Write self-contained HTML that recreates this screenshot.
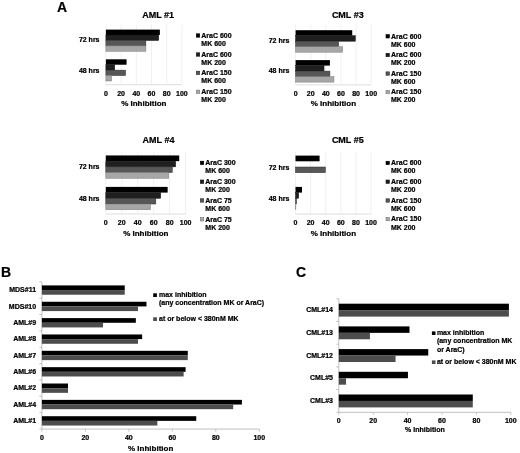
<!DOCTYPE html>
<html><head><meta charset="utf-8"><style>
html,body{margin:0;padding:0;background:#fff;}
body{width:520px;height:453px;overflow:hidden;}
svg{display:block;font-family:"Liberation Sans", sans-serif;filter:blur(0.45px);}
text{stroke:#000;stroke-width:0.22;stroke-linejoin:round;}
</style></head><body>
<svg width="520" height="453" viewBox="0 0 520 453">
<rect x="0" y="0" width="520" height="453" fill="#fff"/>
<line x1="121.10" y1="24.50" x2="121.10" y2="84.70" stroke="#f0f0f0" stroke-width="1"/>
<line x1="136.30" y1="24.50" x2="136.30" y2="84.70" stroke="#f0f0f0" stroke-width="1"/>
<line x1="151.50" y1="24.50" x2="151.50" y2="84.70" stroke="#f0f0f0" stroke-width="1"/>
<line x1="166.70" y1="24.50" x2="166.70" y2="84.70" stroke="#f0f0f0" stroke-width="1"/>
<line x1="181.90" y1="24.50" x2="181.90" y2="84.70" stroke="#f0f0f0" stroke-width="1"/>
<line x1="105.90" y1="24.50" x2="105.90" y2="84.70" stroke="#f0f0f0" stroke-width="1"/>
<line x1="105.90" y1="84.70" x2="181.90" y2="84.70" stroke="#dedede" stroke-width="1"/>
<rect x="105.90" y="29.60" width="53.96" height="5.42" fill="#000000"/>
<rect x="105.90" y="35.02" width="52.82" height="5.42" fill="#1f1f1f" stroke="#111111" stroke-width="0.5"/>
<rect x="105.90" y="40.44" width="39.98" height="5.42" fill="#575757" stroke="#2e2e2e" stroke-width="0.5"/>
<rect x="105.90" y="45.86" width="39.98" height="5.42" fill="#a6a6a6" stroke="#7a7a7a" stroke-width="0.5"/>
<rect x="105.90" y="59.30" width="20.67" height="5.42" fill="#000000"/>
<rect x="105.90" y="64.72" width="8.82" height="5.42" fill="#1f1f1f" stroke="#111111" stroke-width="0.5"/>
<rect x="105.90" y="70.14" width="19.68" height="5.42" fill="#575757" stroke="#2e2e2e" stroke-width="0.5"/>
<rect x="105.90" y="75.56" width="5.70" height="5.42" fill="#a6a6a6" stroke="#7a7a7a" stroke-width="0.5"/>
<text x="158.10" y="17.50" font-size="9" text-anchor="middle" font-weight="bold" fill="#000">AML #1</text>
<text x="99.50" y="42.45" font-size="7" text-anchor="end" font-weight="bold" fill="#000">72 hrs</text>
<text x="99.50" y="72.75" font-size="7" text-anchor="end" font-weight="bold" fill="#000">48 hrs</text>
<text x="105.90" y="95.80" font-size="7" text-anchor="middle" font-weight="bold" fill="#000">0</text>
<text x="121.10" y="95.80" font-size="7" text-anchor="middle" font-weight="bold" fill="#000">20</text>
<text x="136.30" y="95.80" font-size="7" text-anchor="middle" font-weight="bold" fill="#000">40</text>
<text x="151.50" y="95.80" font-size="7" text-anchor="middle" font-weight="bold" fill="#000">60</text>
<text x="166.70" y="95.80" font-size="7" text-anchor="middle" font-weight="bold" fill="#000">80</text>
<text x="181.90" y="95.80" font-size="7" text-anchor="middle" font-weight="bold" fill="#000">100</text>
<text x="143.80" y="106.40" font-size="8" text-anchor="middle" font-weight="bold" fill="#000">% Inhibition</text>
<rect x="196.30" y="33.80" width="3.40" height="3.40" fill="#000000" stroke="#000" stroke-width="0.6"/>
<text x="201.30" y="37.80" font-size="7" text-anchor="start" font-weight="bold" fill="#000">AraC 600</text>
<text x="201.30" y="46.00" font-size="7" text-anchor="start" font-weight="bold" fill="#000">MK 600</text>
<rect x="196.30" y="52.80" width="3.40" height="3.40" fill="#1f1f1f" stroke="#111111" stroke-width="0.6"/>
<text x="201.30" y="56.80" font-size="7" text-anchor="start" font-weight="bold" fill="#000">AraC 600</text>
<text x="201.30" y="64.80" font-size="7" text-anchor="start" font-weight="bold" fill="#000">MK 200</text>
<rect x="196.30" y="71.20" width="3.40" height="3.40" fill="#575757" stroke="#2e2e2e" stroke-width="0.6"/>
<text x="201.30" y="75.20" font-size="7" text-anchor="start" font-weight="bold" fill="#000">AraC 150</text>
<text x="201.30" y="83.20" font-size="7" text-anchor="start" font-weight="bold" fill="#000">MK 600</text>
<rect x="196.30" y="90.10" width="3.40" height="3.40" fill="#a6a6a6" stroke="#7a7a7a" stroke-width="0.6"/>
<text x="201.30" y="94.10" font-size="7" text-anchor="start" font-weight="bold" fill="#000">AraC 150</text>
<text x="201.30" y="102.00" font-size="7" text-anchor="start" font-weight="bold" fill="#000">MK 200</text>
<line x1="310.72" y1="24.50" x2="310.72" y2="84.90" stroke="#f0f0f0" stroke-width="1"/>
<line x1="325.84" y1="24.50" x2="325.84" y2="84.90" stroke="#f0f0f0" stroke-width="1"/>
<line x1="340.96" y1="24.50" x2="340.96" y2="84.90" stroke="#f0f0f0" stroke-width="1"/>
<line x1="356.08" y1="24.50" x2="356.08" y2="84.90" stroke="#f0f0f0" stroke-width="1"/>
<line x1="371.20" y1="24.50" x2="371.20" y2="84.90" stroke="#f0f0f0" stroke-width="1"/>
<line x1="295.60" y1="24.50" x2="295.60" y2="84.90" stroke="#f0f0f0" stroke-width="1"/>
<line x1="295.60" y1="84.90" x2="371.20" y2="84.90" stroke="#dedede" stroke-width="1"/>
<rect x="295.60" y="30.20" width="56.62" height="5.50" fill="#000000"/>
<rect x="295.60" y="35.70" width="59.72" height="5.50" fill="#1f1f1f" stroke="#111111" stroke-width="0.5"/>
<rect x="295.60" y="41.20" width="43.09" height="5.50" fill="#575757" stroke="#2e2e2e" stroke-width="0.5"/>
<rect x="295.60" y="46.70" width="47.10" height="5.50" fill="#a6a6a6" stroke="#7a7a7a" stroke-width="0.5"/>
<rect x="295.60" y="60.10" width="34.32" height="5.50" fill="#000000"/>
<rect x="295.60" y="65.60" width="28.43" height="5.50" fill="#1f1f1f" stroke="#111111" stroke-width="0.5"/>
<rect x="295.60" y="71.10" width="34.32" height="5.50" fill="#575757" stroke="#2e2e2e" stroke-width="0.5"/>
<rect x="295.60" y="76.60" width="38.33" height="5.50" fill="#a6a6a6" stroke="#7a7a7a" stroke-width="0.5"/>
<text x="347.80" y="17.50" font-size="9" text-anchor="middle" font-weight="bold" fill="#000">CML #3</text>
<text x="289.30" y="43.10" font-size="7" text-anchor="end" font-weight="bold" fill="#000">72 hrs</text>
<text x="289.30" y="73.30" font-size="7" text-anchor="end" font-weight="bold" fill="#000">48 hrs</text>
<text x="295.60" y="95.80" font-size="7" text-anchor="middle" font-weight="bold" fill="#000">0</text>
<text x="310.72" y="95.80" font-size="7" text-anchor="middle" font-weight="bold" fill="#000">20</text>
<text x="325.84" y="95.80" font-size="7" text-anchor="middle" font-weight="bold" fill="#000">40</text>
<text x="340.96" y="95.80" font-size="7" text-anchor="middle" font-weight="bold" fill="#000">60</text>
<text x="356.08" y="95.80" font-size="7" text-anchor="middle" font-weight="bold" fill="#000">80</text>
<text x="371.20" y="95.80" font-size="7" text-anchor="middle" font-weight="bold" fill="#000">100</text>
<text x="333.40" y="106.40" font-size="8" text-anchor="middle" font-weight="bold" fill="#000">% Inhibition</text>
<rect x="386.00" y="34.60" width="3.40" height="3.40" fill="#000000" stroke="#000" stroke-width="0.6"/>
<text x="391.00" y="38.60" font-size="7" text-anchor="start" font-weight="bold" fill="#000">AraC 600</text>
<text x="391.00" y="46.70" font-size="7" text-anchor="start" font-weight="bold" fill="#000">MK 600</text>
<rect x="386.00" y="53.30" width="3.40" height="3.40" fill="#1f1f1f" stroke="#111111" stroke-width="0.6"/>
<text x="391.00" y="57.30" font-size="7" text-anchor="start" font-weight="bold" fill="#000">AraC 600</text>
<text x="391.00" y="65.20" font-size="7" text-anchor="start" font-weight="bold" fill="#000">MK 200</text>
<rect x="386.00" y="71.85" width="3.40" height="3.40" fill="#575757" stroke="#2e2e2e" stroke-width="0.6"/>
<text x="391.00" y="75.85" font-size="7" text-anchor="start" font-weight="bold" fill="#000">AraC 150</text>
<text x="391.00" y="83.85" font-size="7" text-anchor="start" font-weight="bold" fill="#000">MK 600</text>
<rect x="386.00" y="90.35" width="3.40" height="3.40" fill="#a6a6a6" stroke="#7a7a7a" stroke-width="0.6"/>
<text x="391.00" y="94.35" font-size="7" text-anchor="start" font-weight="bold" fill="#000">AraC 150</text>
<text x="391.00" y="102.40" font-size="7" text-anchor="start" font-weight="bold" fill="#000">MK 200</text>
<line x1="121.76" y1="151.50" x2="121.76" y2="214.00" stroke="#f0f0f0" stroke-width="1"/>
<line x1="137.72" y1="151.50" x2="137.72" y2="214.00" stroke="#f0f0f0" stroke-width="1"/>
<line x1="153.68" y1="151.50" x2="153.68" y2="214.00" stroke="#f0f0f0" stroke-width="1"/>
<line x1="169.64" y1="151.50" x2="169.64" y2="214.00" stroke="#f0f0f0" stroke-width="1"/>
<line x1="185.60" y1="151.50" x2="185.60" y2="214.00" stroke="#f0f0f0" stroke-width="1"/>
<line x1="105.80" y1="151.50" x2="105.80" y2="214.00" stroke="#f0f0f0" stroke-width="1"/>
<line x1="105.80" y1="214.00" x2="185.60" y2="214.00" stroke="#dedede" stroke-width="1"/>
<rect x="105.80" y="155.45" width="73.42" height="5.70" fill="#000000"/>
<rect x="105.80" y="161.15" width="69.83" height="5.70" fill="#1f1f1f" stroke="#111111" stroke-width="0.5"/>
<rect x="105.80" y="166.85" width="66.47" height="5.70" fill="#575757" stroke="#2e2e2e" stroke-width="0.5"/>
<rect x="105.80" y="172.55" width="62.96" height="5.70" fill="#a6a6a6" stroke="#7a7a7a" stroke-width="0.5"/>
<rect x="105.80" y="186.90" width="61.85" height="5.70" fill="#000000"/>
<rect x="105.80" y="192.60" width="54.90" height="5.70" fill="#1f1f1f" stroke="#111111" stroke-width="0.5"/>
<rect x="105.80" y="198.30" width="50.03" height="5.70" fill="#575757" stroke="#2e2e2e" stroke-width="0.5"/>
<rect x="105.80" y="204.00" width="44.77" height="5.70" fill="#a6a6a6" stroke="#7a7a7a" stroke-width="0.5"/>
<text x="158.50" y="143.00" font-size="9" text-anchor="middle" font-weight="bold" fill="#000">AML #4</text>
<text x="99.50" y="169.40" font-size="7" text-anchor="end" font-weight="bold" fill="#000">72 hrs</text>
<text x="99.50" y="200.90" font-size="7" text-anchor="end" font-weight="bold" fill="#000">48 hrs</text>
<text x="105.80" y="224.80" font-size="7" text-anchor="middle" font-weight="bold" fill="#000">0</text>
<text x="121.76" y="224.80" font-size="7" text-anchor="middle" font-weight="bold" fill="#000">20</text>
<text x="137.72" y="224.80" font-size="7" text-anchor="middle" font-weight="bold" fill="#000">40</text>
<text x="153.68" y="224.80" font-size="7" text-anchor="middle" font-weight="bold" fill="#000">60</text>
<text x="169.64" y="224.80" font-size="7" text-anchor="middle" font-weight="bold" fill="#000">80</text>
<text x="185.60" y="224.80" font-size="7" text-anchor="middle" font-weight="bold" fill="#000">100</text>
<text x="145.80" y="235.80" font-size="8" text-anchor="middle" font-weight="bold" fill="#000">% Inhibition</text>
<rect x="200.30" y="161.20" width="3.40" height="3.40" fill="#000000" stroke="#000" stroke-width="0.6"/>
<text x="205.30" y="165.20" font-size="7" text-anchor="start" font-weight="bold" fill="#000">AraC 300</text>
<text x="205.30" y="173.35" font-size="7" text-anchor="start" font-weight="bold" fill="#000">MK 600</text>
<rect x="200.30" y="180.00" width="3.40" height="3.40" fill="#1f1f1f" stroke="#111111" stroke-width="0.6"/>
<text x="205.30" y="184.00" font-size="7" text-anchor="start" font-weight="bold" fill="#000">AraC 300</text>
<text x="205.30" y="192.00" font-size="7" text-anchor="start" font-weight="bold" fill="#000">MK 200</text>
<rect x="200.30" y="198.75" width="3.40" height="3.40" fill="#575757" stroke="#2e2e2e" stroke-width="0.6"/>
<text x="205.30" y="202.75" font-size="7" text-anchor="start" font-weight="bold" fill="#000">AraC 75</text>
<text x="205.30" y="210.75" font-size="7" text-anchor="start" font-weight="bold" fill="#000">MK 600</text>
<rect x="200.30" y="217.60" width="3.40" height="3.40" fill="#a6a6a6" stroke="#7a7a7a" stroke-width="0.6"/>
<text x="205.30" y="221.60" font-size="7" text-anchor="start" font-weight="bold" fill="#000">AraC 75</text>
<text x="205.30" y="229.60" font-size="7" text-anchor="start" font-weight="bold" fill="#000">MK 200</text>
<line x1="310.60" y1="151.50" x2="310.60" y2="214.00" stroke="#f0f0f0" stroke-width="1"/>
<line x1="325.70" y1="151.50" x2="325.70" y2="214.00" stroke="#f0f0f0" stroke-width="1"/>
<line x1="340.80" y1="151.50" x2="340.80" y2="214.00" stroke="#f0f0f0" stroke-width="1"/>
<line x1="355.90" y1="151.50" x2="355.90" y2="214.00" stroke="#f0f0f0" stroke-width="1"/>
<line x1="371.00" y1="151.50" x2="371.00" y2="214.00" stroke="#f0f0f0" stroke-width="1"/>
<line x1="295.50" y1="151.50" x2="295.50" y2="214.00" stroke="#f0f0f0" stroke-width="1"/>
<line x1="295.50" y1="214.00" x2="371.00" y2="214.00" stroke="#dedede" stroke-width="1"/>
<rect x="295.50" y="155.60" width="24.08" height="5.70" fill="#000000"/>
<rect x="295.50" y="167.00" width="29.90" height="5.70" fill="#575757" stroke="#2e2e2e" stroke-width="0.5"/>
<rect x="295.50" y="186.90" width="6.49" height="5.70" fill="#000000"/>
<rect x="295.50" y="192.60" width="3.17" height="5.70" fill="#1f1f1f" stroke="#111111" stroke-width="0.5"/>
<rect x="295.50" y="198.30" width="1.06" height="5.70" fill="#575757" stroke="#2e2e2e" stroke-width="0.5"/>
<rect x="295.50" y="204.00" width="0.38" height="5.70" fill="#a6a6a6" stroke="#7a7a7a" stroke-width="0.5"/>
<text x="347.80" y="143.00" font-size="9" text-anchor="middle" font-weight="bold" fill="#000">CML #5</text>
<text x="289.30" y="169.70" font-size="7" text-anchor="end" font-weight="bold" fill="#000">72 hrs</text>
<text x="289.30" y="201.20" font-size="7" text-anchor="end" font-weight="bold" fill="#000">48 hrs</text>
<text x="295.50" y="224.80" font-size="7" text-anchor="middle" font-weight="bold" fill="#000">0</text>
<text x="310.60" y="224.80" font-size="7" text-anchor="middle" font-weight="bold" fill="#000">20</text>
<text x="325.70" y="224.80" font-size="7" text-anchor="middle" font-weight="bold" fill="#000">40</text>
<text x="340.80" y="224.80" font-size="7" text-anchor="middle" font-weight="bold" fill="#000">60</text>
<text x="355.90" y="224.80" font-size="7" text-anchor="middle" font-weight="bold" fill="#000">80</text>
<text x="371.00" y="224.80" font-size="7" text-anchor="middle" font-weight="bold" fill="#000">100</text>
<text x="333.40" y="235.80" font-size="8" text-anchor="middle" font-weight="bold" fill="#000">% Inhibition</text>
<rect x="386.00" y="161.25" width="3.40" height="3.40" fill="#000000" stroke="#000" stroke-width="0.6"/>
<text x="391.00" y="165.25" font-size="7" text-anchor="start" font-weight="bold" fill="#000">AraC 600</text>
<text x="391.00" y="173.45" font-size="7" text-anchor="start" font-weight="bold" fill="#000">MK 600</text>
<rect x="386.00" y="180.00" width="3.40" height="3.40" fill="#1f1f1f" stroke="#111111" stroke-width="0.6"/>
<text x="391.00" y="184.00" font-size="7" text-anchor="start" font-weight="bold" fill="#000">AraC 600</text>
<text x="391.00" y="192.00" font-size="7" text-anchor="start" font-weight="bold" fill="#000">MK 200</text>
<rect x="386.00" y="198.80" width="3.40" height="3.40" fill="#575757" stroke="#2e2e2e" stroke-width="0.6"/>
<text x="391.00" y="202.80" font-size="7" text-anchor="start" font-weight="bold" fill="#000">AraC 150</text>
<text x="391.00" y="210.80" font-size="7" text-anchor="start" font-weight="bold" fill="#000">MK 600</text>
<rect x="386.00" y="217.40" width="3.40" height="3.40" fill="#a6a6a6" stroke="#7a7a7a" stroke-width="0.6"/>
<text x="391.00" y="221.40" font-size="7" text-anchor="start" font-weight="bold" fill="#000">AraC 150</text>
<text x="391.00" y="229.60" font-size="7" text-anchor="start" font-weight="bold" fill="#000">MK 200</text>
<text x="57.00" y="12.40" font-size="14" text-anchor="start" font-weight="bold" fill="#000">A</text>
<text x="1.00" y="276.90" font-size="14" text-anchor="start" font-weight="bold" fill="#000">B</text>
<text x="296.00" y="276.90" font-size="14" text-anchor="start" font-weight="bold" fill="#000">C</text>
<line x1="41.90" y1="281.90" x2="41.90" y2="429.05" stroke="#c0c0c0" stroke-width="1"/>
<line x1="41.90" y1="429.05" x2="259.30" y2="429.05" stroke="#c0c0c0" stroke-width="1"/>
<line x1="39.40" y1="281.90" x2="41.90" y2="281.90" stroke="#c0c0c0" stroke-width="1"/>
<line x1="39.40" y1="298.25" x2="41.90" y2="298.25" stroke="#c0c0c0" stroke-width="1"/>
<line x1="39.40" y1="314.60" x2="41.90" y2="314.60" stroke="#c0c0c0" stroke-width="1"/>
<line x1="39.40" y1="330.95" x2="41.90" y2="330.95" stroke="#c0c0c0" stroke-width="1"/>
<line x1="39.40" y1="347.30" x2="41.90" y2="347.30" stroke="#c0c0c0" stroke-width="1"/>
<line x1="39.40" y1="363.65" x2="41.90" y2="363.65" stroke="#c0c0c0" stroke-width="1"/>
<line x1="39.40" y1="380.00" x2="41.90" y2="380.00" stroke="#c0c0c0" stroke-width="1"/>
<line x1="39.40" y1="396.35" x2="41.90" y2="396.35" stroke="#c0c0c0" stroke-width="1"/>
<line x1="39.40" y1="412.70" x2="41.90" y2="412.70" stroke="#c0c0c0" stroke-width="1"/>
<line x1="39.40" y1="429.05" x2="41.90" y2="429.05" stroke="#c0c0c0" stroke-width="1"/>
<line x1="41.90" y1="429.05" x2="41.90" y2="431.55" stroke="#c0c0c0" stroke-width="1"/>
<text x="41.90" y="439.60" font-size="7" text-anchor="middle" font-weight="bold" fill="#000">0</text>
<line x1="85.38" y1="429.05" x2="85.38" y2="431.55" stroke="#c0c0c0" stroke-width="1"/>
<text x="85.38" y="439.60" font-size="7" text-anchor="middle" font-weight="bold" fill="#000">20</text>
<line x1="128.86" y1="429.05" x2="128.86" y2="431.55" stroke="#c0c0c0" stroke-width="1"/>
<text x="128.86" y="439.60" font-size="7" text-anchor="middle" font-weight="bold" fill="#000">40</text>
<line x1="172.34" y1="429.05" x2="172.34" y2="431.55" stroke="#c0c0c0" stroke-width="1"/>
<text x="172.34" y="439.60" font-size="7" text-anchor="middle" font-weight="bold" fill="#000">60</text>
<line x1="215.82" y1="429.05" x2="215.82" y2="431.55" stroke="#c0c0c0" stroke-width="1"/>
<text x="215.82" y="439.60" font-size="7" text-anchor="middle" font-weight="bold" fill="#000">80</text>
<line x1="259.30" y1="429.05" x2="259.30" y2="431.55" stroke="#c0c0c0" stroke-width="1"/>
<text x="259.30" y="439.60" font-size="7" text-anchor="middle" font-weight="bold" fill="#000">100</text>
<text x="150.70" y="450.60" font-size="8" text-anchor="middle" font-weight="bold" fill="#000">% Inhibition</text>
<rect x="41.90" y="285.41" width="82.83" height="4.66" fill="#000000"/>
<rect x="41.90" y="290.07" width="82.83" height="4.66" fill="#4d4d4d"/>
<text x="36.10" y="292.38" font-size="7" text-anchor="end" font-weight="bold" fill="#000">MDS#11</text>
<rect x="41.90" y="301.76" width="104.57" height="4.66" fill="#000000"/>
<rect x="41.90" y="306.43" width="96.09" height="4.66" fill="#4d4d4d"/>
<text x="36.10" y="308.73" font-size="7" text-anchor="end" font-weight="bold" fill="#000">MDS#10</text>
<rect x="41.90" y="318.11" width="93.92" height="4.66" fill="#000000"/>
<rect x="41.90" y="322.77" width="61.09" height="4.66" fill="#4d4d4d"/>
<text x="36.10" y="325.07" font-size="7" text-anchor="end" font-weight="bold" fill="#000">AML#9</text>
<rect x="41.90" y="334.46" width="100.22" height="4.66" fill="#000000"/>
<rect x="41.90" y="339.12" width="96.09" height="4.66" fill="#4d4d4d"/>
<text x="36.10" y="341.43" font-size="7" text-anchor="end" font-weight="bold" fill="#000">AML#8</text>
<rect x="41.90" y="350.81" width="145.88" height="4.66" fill="#000000"/>
<rect x="41.90" y="355.47" width="145.88" height="4.66" fill="#4d4d4d"/>
<text x="36.10" y="357.77" font-size="7" text-anchor="end" font-weight="bold" fill="#000">AML#7</text>
<rect x="41.90" y="367.16" width="143.70" height="4.66" fill="#000000"/>
<rect x="41.90" y="371.82" width="141.74" height="4.66" fill="#4d4d4d"/>
<text x="36.10" y="374.12" font-size="7" text-anchor="end" font-weight="bold" fill="#000">AML#6</text>
<rect x="41.90" y="383.51" width="26.09" height="4.66" fill="#000000"/>
<rect x="41.90" y="388.18" width="26.09" height="4.66" fill="#4d4d4d"/>
<text x="36.10" y="390.48" font-size="7" text-anchor="end" font-weight="bold" fill="#000">AML#2</text>
<rect x="41.90" y="399.87" width="200.01" height="4.66" fill="#000000"/>
<rect x="41.90" y="404.53" width="191.31" height="4.66" fill="#4d4d4d"/>
<text x="36.10" y="406.83" font-size="7" text-anchor="end" font-weight="bold" fill="#000">AML#4</text>
<rect x="41.90" y="416.21" width="154.35" height="4.66" fill="#000000"/>
<rect x="41.90" y="420.88" width="115.44" height="4.66" fill="#4d4d4d"/>
<text x="36.10" y="423.18" font-size="7" text-anchor="end" font-weight="bold" fill="#000">AML#1</text>
<rect x="153.20" y="293.30" width="3.70" height="3.70" fill="#000000"/>
<text x="159.00" y="297.20" font-size="7" text-anchor="start" font-weight="bold" fill="#000">max inhibition</text>
<text x="159.00" y="305.20" font-size="7" text-anchor="start" font-weight="bold" fill="#000">(any concentration MK or AraC)</text>
<rect x="153.20" y="317.30" width="3.70" height="3.70" fill="#4d4d4d"/>
<text x="159.00" y="321.20" font-size="7" text-anchor="start" font-weight="bold" fill="#000">at or below &lt; 380nM MK</text>
<line x1="338.80" y1="298.80" x2="338.80" y2="412.30" stroke="#c0c0c0" stroke-width="1"/>
<line x1="338.80" y1="412.30" x2="510.80" y2="412.30" stroke="#c0c0c0" stroke-width="1"/>
<line x1="336.30" y1="298.80" x2="338.80" y2="298.80" stroke="#c0c0c0" stroke-width="1"/>
<line x1="336.30" y1="321.50" x2="338.80" y2="321.50" stroke="#c0c0c0" stroke-width="1"/>
<line x1="336.30" y1="344.20" x2="338.80" y2="344.20" stroke="#c0c0c0" stroke-width="1"/>
<line x1="336.30" y1="366.90" x2="338.80" y2="366.90" stroke="#c0c0c0" stroke-width="1"/>
<line x1="336.30" y1="389.60" x2="338.80" y2="389.60" stroke="#c0c0c0" stroke-width="1"/>
<line x1="336.30" y1="412.30" x2="338.80" y2="412.30" stroke="#c0c0c0" stroke-width="1"/>
<line x1="338.80" y1="412.30" x2="338.80" y2="414.80" stroke="#c0c0c0" stroke-width="1"/>
<text x="338.80" y="422.60" font-size="7" text-anchor="middle" font-weight="bold" fill="#000">0</text>
<line x1="373.20" y1="412.30" x2="373.20" y2="414.80" stroke="#c0c0c0" stroke-width="1"/>
<text x="373.20" y="422.60" font-size="7" text-anchor="middle" font-weight="bold" fill="#000">20</text>
<line x1="407.60" y1="412.30" x2="407.60" y2="414.80" stroke="#c0c0c0" stroke-width="1"/>
<text x="407.60" y="422.60" font-size="7" text-anchor="middle" font-weight="bold" fill="#000">40</text>
<line x1="442.00" y1="412.30" x2="442.00" y2="414.80" stroke="#c0c0c0" stroke-width="1"/>
<text x="442.00" y="422.60" font-size="7" text-anchor="middle" font-weight="bold" fill="#000">60</text>
<line x1="476.40" y1="412.30" x2="476.40" y2="414.80" stroke="#c0c0c0" stroke-width="1"/>
<text x="476.40" y="422.60" font-size="7" text-anchor="middle" font-weight="bold" fill="#000">80</text>
<line x1="510.80" y1="412.30" x2="510.80" y2="414.80" stroke="#c0c0c0" stroke-width="1"/>
<text x="510.80" y="422.60" font-size="7" text-anchor="middle" font-weight="bold" fill="#000">100</text>
<text x="424.90" y="432.00" font-size="7" text-anchor="middle" font-weight="bold" fill="#000">% Inhibition</text>
<rect x="338.80" y="303.70" width="170.11" height="6.45" fill="#000000"/>
<rect x="338.80" y="310.15" width="170.11" height="6.45" fill="#4d4d4d"/>
<text x="333.00" y="312.15" font-size="7" text-anchor="end" font-weight="bold" fill="#000">CML#14</text>
<rect x="338.80" y="326.40" width="70.69" height="6.45" fill="#000000"/>
<rect x="338.80" y="332.85" width="31.13" height="6.45" fill="#4d4d4d"/>
<text x="333.00" y="334.85" font-size="7" text-anchor="end" font-weight="bold" fill="#000">CML#13</text>
<rect x="338.80" y="349.10" width="89.44" height="6.45" fill="#000000"/>
<rect x="338.80" y="355.55" width="56.76" height="6.45" fill="#4d4d4d"/>
<text x="333.00" y="357.55" font-size="7" text-anchor="end" font-weight="bold" fill="#000">CML#12</text>
<rect x="338.80" y="371.80" width="69.14" height="6.45" fill="#000000"/>
<rect x="338.80" y="378.25" width="7.22" height="6.45" fill="#4d4d4d"/>
<text x="333.00" y="380.25" font-size="7" text-anchor="end" font-weight="bold" fill="#000">CML#5</text>
<rect x="338.80" y="394.50" width="133.99" height="6.45" fill="#000000"/>
<rect x="338.80" y="400.95" width="133.99" height="6.45" fill="#4d4d4d"/>
<text x="333.00" y="402.95" font-size="7" text-anchor="end" font-weight="bold" fill="#000">CML#3</text>
<rect x="431.90" y="331.40" width="3.60" height="3.60" fill="#000000"/>
<text x="436.90" y="335.00" font-size="7" text-anchor="start" font-weight="bold" fill="#000">max inhibition</text>
<text x="436.90" y="343.30" font-size="7" text-anchor="start" font-weight="bold" fill="#000">(any concentration MK</text>
<text x="436.90" y="351.50" font-size="7" text-anchor="start" font-weight="bold" fill="#000">or AraC)</text>
<rect x="431.90" y="360.40" width="3.60" height="3.60" fill="#4d4d4d"/>
<text x="436.90" y="363.70" font-size="7" text-anchor="start" font-weight="bold" fill="#000">at or below &lt; 380nM MK</text>
</svg>
</body></html>
